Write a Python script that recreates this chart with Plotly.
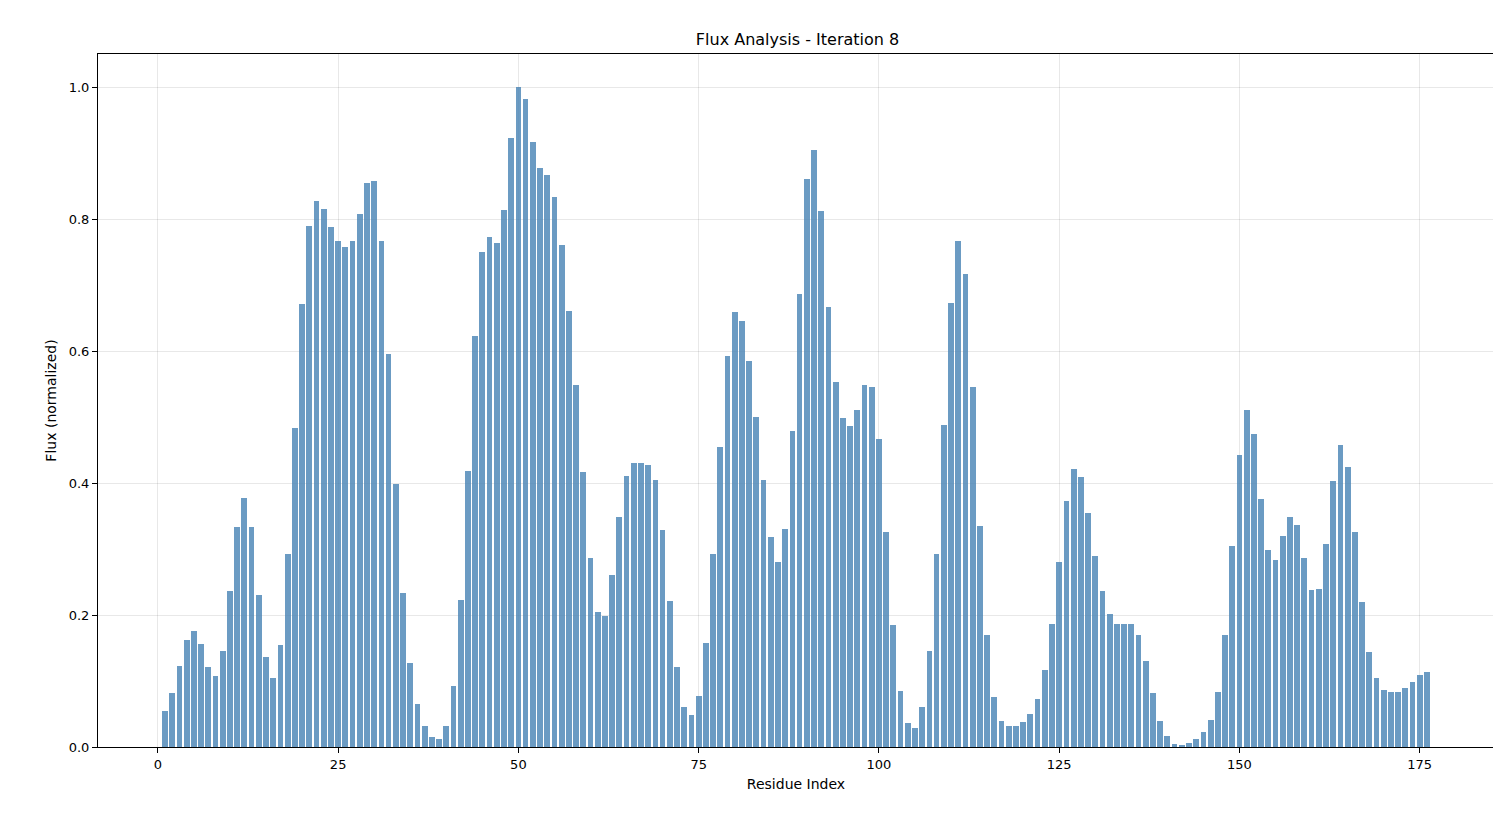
import plotly.graph_objects as go

# residue indices 1..176 and normalized flux
residues = list(range(1, 177))
flux = [
    0.055, 0.082, 0.122, 0.162, 0.176, 0.156, 0.121, 0.107, 0.146, 0.236,
    0.334, 0.377, 0.333, 0.231, 0.137, 0.104, 0.154, 0.292, 0.484, 0.671,
    0.790, 0.828, 0.815, 0.788, 0.766, 0.757, 0.767, 0.807, 0.854, 0.857,
    0.767, 0.595, 0.398, 0.234, 0.127, 0.065, 0.032, 0.015, 0.012, 0.032,
    0.093, 0.222, 0.418, 0.622, 0.750, 0.772, 0.763, 0.813, 0.922, 1.000,
    0.982, 0.916, 0.878, 0.867, 0.834, 0.760, 0.661, 0.548, 0.416, 0.287,
    0.204, 0.199, 0.261, 0.349, 0.411, 0.431, 0.431, 0.428, 0.404, 0.329,
    0.221, 0.121, 0.060, 0.048, 0.078, 0.158, 0.292, 0.454, 0.593, 0.659,
    0.646, 0.585, 0.500, 0.405, 0.318, 0.281, 0.331, 0.479, 0.687, 0.860,
    0.904, 0.812, 0.667, 0.553, 0.498, 0.487, 0.511, 0.548, 0.546, 0.466,
    0.326, 0.185, 0.085, 0.036, 0.029, 0.061, 0.146, 0.293, 0.488, 0.673,
    0.767, 0.716, 0.545, 0.335, 0.170, 0.076, 0.040, 0.032, 0.032, 0.038,
    0.050, 0.073, 0.116, 0.187, 0.281, 0.372, 0.421, 0.409, 0.355, 0.290,
    0.237, 0.202, 0.186, 0.187, 0.187, 0.170, 0.131, 0.082, 0.040, 0.016,
    0.005, 0.003, 0.006, 0.012, 0.023, 0.041, 0.084, 0.170, 0.305, 0.443,
    0.511, 0.475, 0.376, 0.298, 0.284, 0.319, 0.349, 0.337, 0.287, 0.238,
    0.240, 0.308, 0.403, 0.457, 0.424, 0.326, 0.220, 0.144, 0.104, 0.087,
    0.083, 0.084, 0.090, 0.099, 0.109, 0.114,
]

fig = go.Figure()
fig.add_trace(go.Bar(x=residues, y=flux, width=0.8,
                     marker_color='rgba(70,130,180,0.8)', marker_line_width=0))

axis_style = dict(showline=True, linecolor='black', linewidth=1, mirror=True,
                  ticks='outside', ticklen=5, tickcolor='black',
                  showgrid=True, gridcolor='rgba(0,0,0,0.09)', zeroline=False,
                  tickfont=dict(size=13, color='black'))

fig.update_layout(
    width=1501, height=817,
    title=dict(text='Flux Analysis - Iteration 8', x=0.526, y=0.968,
               font=dict(size=16, color='black')),
    font=dict(family='DejaVu Sans', color='black'),
    plot_bgcolor='white', paper_bgcolor='white',
    margin=dict(l=90, r=15, t=46, b=78),
    showlegend=False, bargap=0,
)
fig.update_xaxes(range=[-8.3, 185.3], tickvals=[0, 25, 50, 75, 100, 125, 150, 175],
                 title=dict(text='Residue Index', font=dict(size=14), standoff=8), **axis_style)
fig.update_yaxes(range=[0, 1.05], tickvals=[0, 0.2, 0.4, 0.6, 0.8, 1.0], tickformat='.1f',
                 title=dict(text='Flux (normalized)', font=dict(size=14), standoff=8), **axis_style)

fig.write_html("out.html")
